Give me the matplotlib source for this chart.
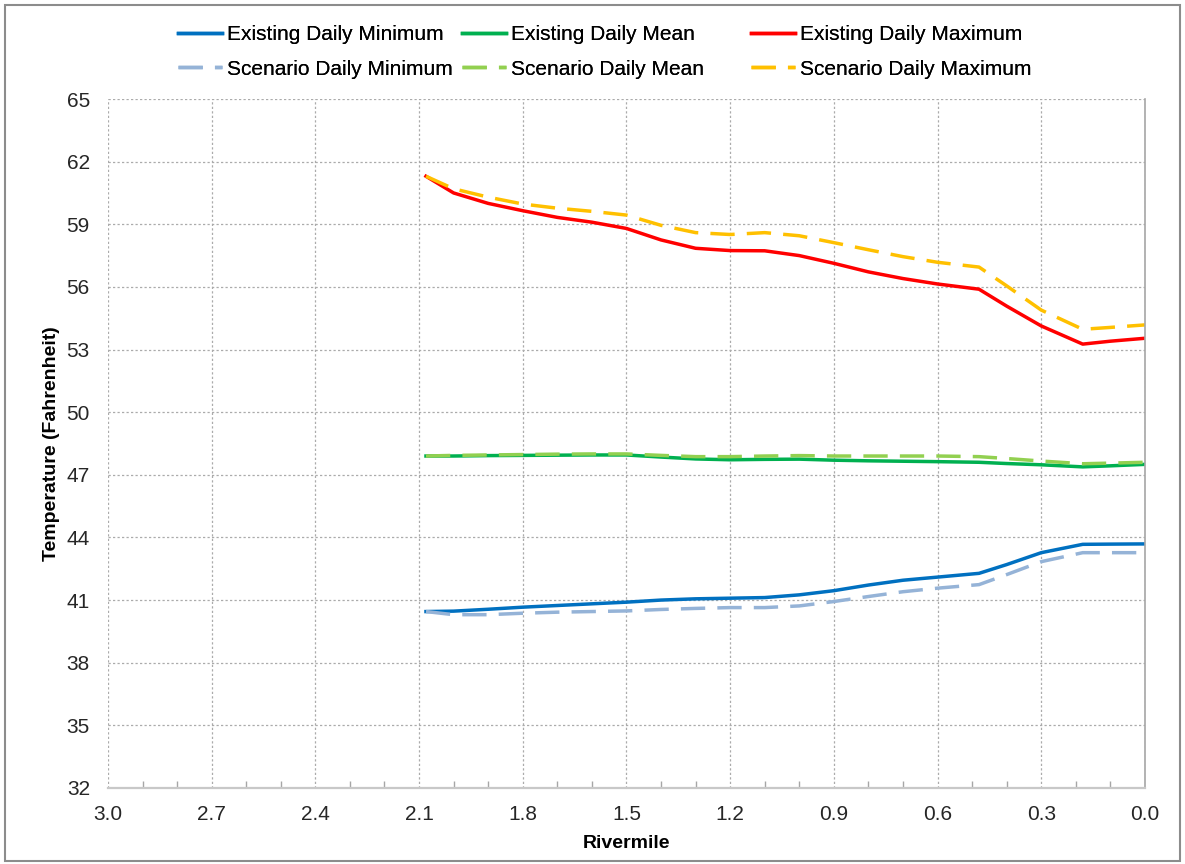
import matplotlib
matplotlib.use("Agg")
import numpy as np
import matplotlib.pyplot as plt
from matplotlib.patches import Rectangle
from matplotlib.ticker import MultipleLocator, FixedLocator

plt.rcParams['font.family'] = ['Liberation Sans', 'DejaVu Sans']

# river miles
rivermile = [2.08, 2.0, 1.9, 1.8, 1.7, 1.6, 1.5, 1.4, 1.3, 1.2, 1.1, 1.0,
             0.9, 0.8, 0.7, 0.6, 0.48, 0.4, 0.3, 0.18, 0.1, 0.0]

exist_min = [40.45, 40.47, 40.56, 40.66, 40.74, 40.82, 40.90, 41.00, 41.06, 41.09, 41.12, 41.25,
             41.45, 41.72, 41.95, 42.10, 42.28, 42.70, 43.27, 43.67, 43.68, 43.69]
scen_min = [40.45, 40.30, 40.30, 40.37, 40.42, 40.45, 40.48, 40.55, 40.60, 40.64, 40.64, 40.72,
            40.93, 41.17, 41.40, 41.57, 41.74, 42.22, 42.84, 43.27, 43.27, 43.27]
exist_mean = [47.90, 47.90, 47.92, 47.93, 47.94, 47.95, 47.95, 47.85, 47.76, 47.72, 47.74, 47.75,
              47.70, 47.67, 47.65, 47.63, 47.60, 47.54, 47.48, 47.38, 47.43, 47.50]
scen_mean = [47.90, 47.93, 47.95, 47.97, 47.99, 48.00, 48.00, 47.93, 47.87, 47.87, 47.90, 47.92,
             47.90, 47.90, 47.90, 47.90, 47.87, 47.78, 47.66, 47.53, 47.56, 47.60]
exist_max = [61.30, 60.50, 60.00, 59.65, 59.33, 59.10, 58.80, 58.25, 57.85, 57.74, 57.73, 57.50,
             57.13, 56.72, 56.40, 56.14, 55.89, 55.08, 54.13, 53.26, 53.40, 53.54]
scen_max = [61.30, 60.70, 60.30, 59.97, 59.77, 59.62, 59.44, 58.95, 58.60, 58.51, 58.60, 58.45,
            58.12, 57.78, 57.45, 57.18, 56.95, 56.05, 54.89, 53.97, 54.06, 54.18]

y_ticks = np.arange(32, 66, 3)

fig = plt.figure(figsize=(11.85, 8.64), dpi=100)
ax = fig.add_axes([0.0911, 0.088, 0.8751, 0.7974])

lw = 2.5
dash = (0, (7, 3.5))
l1, = ax.plot(rivermile, exist_min, color='#0070C0', lw=lw, label='Existing Daily Minimum')
l2, = ax.plot(rivermile, scen_min, color='#95B3D7', lw=lw, ls=dash, label='Scenario Daily Minimum')
l3, = ax.plot(rivermile, exist_mean, color='#00B050', lw=lw, label='Existing Daily Mean')
l4, = ax.plot(rivermile, scen_mean, color='#92D050', lw=lw, ls=dash, label='Scenario Daily Mean')
l5, = ax.plot(rivermile, exist_max, color='#FF0000', lw=lw, label='Existing Daily Maximum')
l6, = ax.plot(rivermile, scen_max, color='#FFC000', lw=lw, ls=dash, label='Scenario Daily Maximum')

ax.set_xlim(3.0, 0.0)
ax.set_ylim(32, 65)
ax.xaxis.set_major_locator(MultipleLocator(0.3))
ax.xaxis.set_minor_locator(MultipleLocator(0.1))
ax.yaxis.set_major_locator(FixedLocator(y_ticks))
ax.xaxis.set_major_formatter(plt.FuncFormatter(lambda v, p: f"{v:.1f}"))

ax.grid(True, which='major', color='#ABABAB', ls=(0, (1.8, 1.8)), lw=0.9)
ax.set_axisbelow(True)

for s in ['top', 'left']:
    ax.spines[s].set_visible(False)
ax.spines['bottom'].set_color('#C8C8C8')
ax.spines['bottom'].set_linewidth(1.6)
ax.spines['right'].set_color('#A6A6A6')
ax.spines['right'].set_linewidth(1.2)

ax.tick_params(axis='x', which='both', direction='in', colors='#A6A6A6',
               labelcolor='#262626', labelsize=15, pad=12)
ax.tick_params(axis='x', which='major', length=0)
ax.tick_params(axis='x', which='minor', length=5, width=1)
ax.tick_params(axis='y', length=0, labelcolor='#262626', labelsize=15, pad=13)

ax.set_xlabel('Rivermile', fontsize=14, fontweight='bold', labelpad=8)
ax.set_ylabel('Temperature (Fahrenheit)', fontsize=14, fontweight='bold', labelpad=5)

# legend: one column per statistic, placed like the original
columns = [(l1, l2), (l3, l4), (l5, l6)]
col_x = [0.150, 0.390, 0.634]
for hs, xpos in zip(columns, col_x):
    leg = fig.legend(handles=list(hs), loc='upper left', bbox_to_anchor=(xpos, 0.971),
                     frameon=False, fontsize=15, borderpad=0, borderaxespad=0,
                     handlelength=2.1, handletextpad=0.25, labelspacing=0.75)
    fig.add_artist(leg)

fig.patches.append(Rectangle((0.004, 0.004), 0.992, 0.99, transform=fig.transFigure,
                             fill=False, edgecolor='#8C8C8C', lw=1.5))

fig.savefig('out.png', dpi=100)
